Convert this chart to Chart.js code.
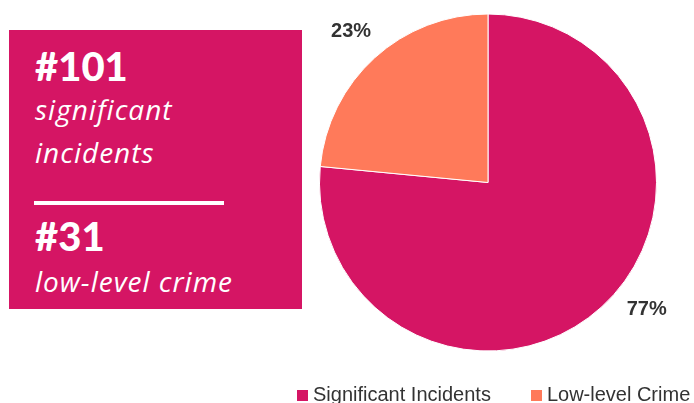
<!DOCTYPE html>
<html>
<head>
<meta charset="utf-8">
<script src="https://cdn.jsdelivr.net/npm/chart.js"></script>
<style>
  body { margin: 0; background: #fff; }
  #wrap { position: relative; width: 694px; height: 403px; overflow: hidden; }
  #pie { position: absolute; left: 0; top: 0; }
  .box { position: absolute; left: 9px; top: 30px; width: 293px; height: 279px; background: #d51564; }
  .t { position: absolute; left: 26px; color: #fff; line-height: 1; white-space: nowrap; }
  .num { font-family: Lato, sans-serif; font-weight: 900; font-size: 40px; }
  .cap { font-family: "Open Sans", sans-serif; font-style: italic; font-weight: 400; font-size: 28px; letter-spacing: 1px; }
  .rule { position: absolute; left: 25px; top: 171px; width: 190px; height: 4px; background: #fff; }
  #legend { position: absolute; left: 297px; top: 384px; display: flex; gap: 40px;
    font-family: "Liberation Sans", Arial, sans-serif; font-size: 20px; line-height: 1; color: #333; }
  #legend span.item { display: flex; align-items: center; }
  #legend i { display: inline-block; width: 11px; height: 11px; margin-right: 5px; margin-top: 2px; }
</style>
</head>
<body>
<div id="wrap">
  <canvas id="pie" width="694" height="403"></canvas>
  <div class="box">
    <div class="t num" id="n1" style="top:16px"></div>
    <div class="t cap" style="top:65px">significant</div>
    <div class="t cap" style="top:108px">incidents</div>
    <div class="rule"></div>
    <div class="t num" id="n2" style="top:186px"></div>
    <div class="t cap" style="top:237px">low-level crime</div>
  </div>
  <div id="legend"></div>
</div>
<script>
const categories = ["Significant Incidents", "Low-level Crime"];
const counts = [101, 31];
const colors = ["#d51564", "#ff7a5a"];

const total = counts.reduce((s, v) => s + v, 0);

document.getElementById("n1").textContent = "#" + counts[0];
document.getElementById("n2").textContent = "#" + counts[1];

// legend built from the same arrays
const legend = document.getElementById("legend");
categories.forEach((name, i) => {
  const item = document.createElement("span");
  item.className = "item";
  const sw = document.createElement("i");
  sw.style.background = colors[i];
  item.appendChild(sw);
  item.appendChild(document.createTextNode(name));
  legend.appendChild(item);
});

// percent labels outside each slice
const outsideLabels = {
  id: "outsideLabels",
  afterDatasetsDraw(chart, args, opts) {
    const ctx = chart.ctx;
    const meta = chart.getDatasetMeta(0);
    ctx.save();
    ctx.font = "bold 20px 'Liberation Sans', Arial, sans-serif";
    ctx.fillStyle = "#333";
    ctx.textAlign = "center";
    ctx.textBaseline = "middle";
    meta.data.forEach((arc, i) => {
      const { x, y, startAngle, endAngle, outerRadius } = arc.getProps(["x", "y", "startAngle", "endAngle", "outerRadius"], true);
      const a = (startAngle + endAngle) / 2 + (opts.shift[i] || 0) * Math.PI / 180;
      const r = outerRadius + opts.offset;
      const pct = Math.round(counts[i] / total * 100) + "%";
      ctx.fillText(pct, x + Math.cos(a) * r, y + Math.sin(a) * r);
    });
    ctx.restore();
  }
};

new Chart(document.getElementById("pie").getContext("2d"), {
  type: "pie",
  data: {
    labels: categories,
    datasets: [{
      data: counts,
      backgroundColor: colors,
      borderColor: "#fff",
      borderWidth: 1
    }]
  },
  options: {
    responsive: false,
    animation: false,
    layout: { padding: { left: 319, right: 37, top: 13, bottom: 51 } },
    plugins: {
      legend: { display: false },
      tooltip: { enabled: false },
      outsideLabels: { offset: 35, shift: [-9, 0] }
    }
  },
  plugins: [outsideLabels]
});
</script>
</body>
</html>
